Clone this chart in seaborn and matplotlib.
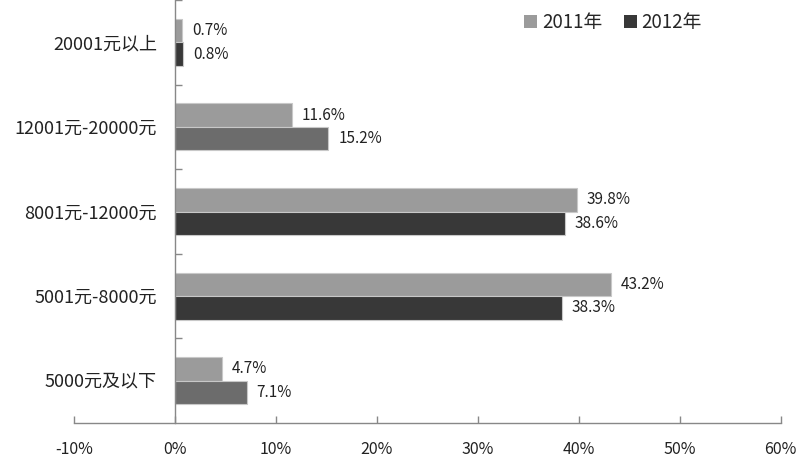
import pandas as pd
import matplotlib
matplotlib.use("Agg")
import matplotlib.pyplot as plt
from matplotlib.patches import Patch
from matplotlib.ticker import FixedLocator
import seaborn as sns

categories = ["20001元以上", "12001元-20000元", "8001元-12000元", "5001元-8000元", "5000元及以下"]
years = ["2011年", "2012年"]
values_2011 = [0.7, 11.6, 39.8, 43.2, 4.7]
values_2012 = [0.8, 15.2, 38.6, 38.3, 7.1]
xticks = [-10, 0, 10, 20, 30, 40, 50, 60]

# bar colours (the original uses a lighter shade for two of the 2012 bars)
c_2011 = "#9b9b9b"
c_2012 = ["#383838", "#6c6c6c", "#383838", "#383838", "#6c6c6c"]

df = pd.DataFrame({
    "category": categories * 2,
    "year": [years[0]] * len(categories) + [years[1]] * len(categories),
    "value": values_2011 + values_2012,
})

sns.set_style("white")
plt.rcParams["font.family"] = ["Noto Sans CJK SC", "DejaVu Sans"]

fig = plt.figure(figsize=(8, 4.62), dpi=100)
ax = fig.add_axes([0.0925, 0.0844, 0.976 - 0.0925, 0.9156])

sns.barplot(data=df, x="value", y="category", hue="year", orient="h",
            order=categories, hue_order=years, width=0.555,
            palette=[c_2011, "#383838"], edgecolor="#c8c8c8", linewidth=0.8,
            legend=False, ax=ax)

for bar in ax.containers[0]:
    bar.set_facecolor(c_2011)
for bar, col in zip(ax.containers[1], c_2012):
    bar.set_facecolor(col)

for cont, vals in zip(ax.containers, [values_2011, values_2012]):
    ax.bar_label(cont, labels=[f"{v}%" for v in vals], padding=7,
                 fontsize=11, color="#222222")

ax.set_xlim(-10, 60)
ax.set_ylim(len(categories) - 0.5, -0.5)
ax.set_xticks(xticks)
ax.set_xticklabels([f"{t}%" for t in xticks], fontsize=11.5, color="#222222")
ax.set_xlabel("")
ax.set_ylabel("")

ax.spines["left"].set_position(("data", 0))
for s in ["top", "right"]:
    ax.spines[s].set_visible(False)
for s in ["left", "bottom"]:
    ax.spines[s].set_color("#888888")
    ax.spines[s].set_linewidth(1.0)

ax.tick_params(axis="x", direction="in", length=5, width=1, color="#888888",
               pad=13, bottom=True)
ax.tick_params(axis="y", which="major", length=0, pad=13, labelsize=13,
               labelcolor="#222222")
ax.yaxis.set_minor_locator(FixedLocator([-0.5, 0.5, 1.5, 2.5, 3.5]))
ax.tick_params(axis="y", which="minor", direction="in", length=5, width=1,
               color="#888888", left=True)

handles = [Patch(facecolor=c_2011, edgecolor="none"),
           Patch(facecolor="#383838", edgecolor="none")]
fig.legend(handles, years, loc="upper left", bbox_to_anchor=(0.634, 1.01),
           ncol=2, frameon=False, fontsize=13.5, handlelength=0.7,
           handleheight=0.7, handletextpad=0.25, columnspacing=1.15)

fig.savefig("out.png", dpi=100, facecolor="white")
